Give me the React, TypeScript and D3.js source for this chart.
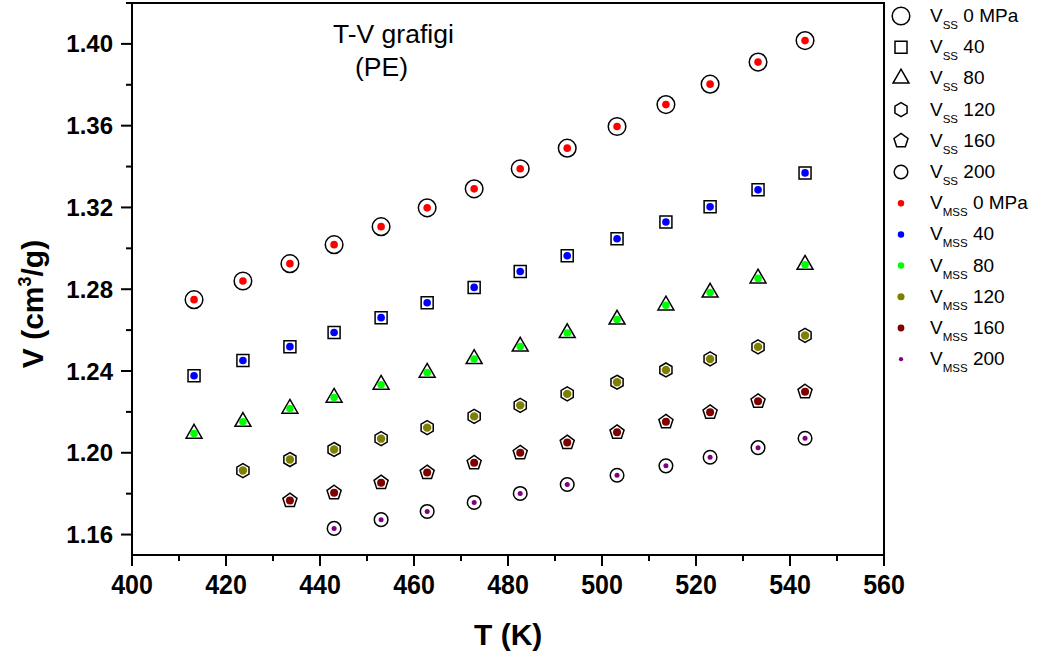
import React from 'react';
import * as d3 from 'd3';

// Temperatures (K)
const temperatures = [413.2, 423.6, 433.6, 443.0, 453.0, 462.8, 472.8, 482.6, 492.6, 503.2, 513.6, 523.0, 533.2, 543.2];

// Specific volume (cm^3/g) per pressure
const v0 = [1.2749, 1.2840, 1.2925, 1.3018, 1.3106, 1.3198, 1.3291, 1.3389, 1.3490, 1.3596, 1.3703, 1.3803, 1.3911, 1.4016];
const v40 = [1.2377, 1.2451, 1.2519, 1.2588, 1.2661, 1.2734, 1.2809, 1.2887, 1.2964, 1.3047, 1.3129, 1.3203, 1.3286, 1.3369];
const v80 = [1.2094, 1.2152, 1.2216, 1.2270, 1.2333, 1.2392, 1.2459, 1.2520, 1.2586, 1.2652, 1.2721, 1.2784, 1.2853, 1.2920];
const v120 = [null, 1.1913, 1.1967, 1.2016, 1.2069, 1.2123, 1.2178, 1.2232, 1.2288, 1.2345, 1.2405, 1.2459, 1.2518, 1.2574];
const v160 = [null, null, 1.1766, 1.1805, 1.1854, 1.1903, 1.1951, 1.2000, 1.2050, 1.2100, 1.2152, 1.2198, 1.2252, 1.2299];
const v200 = [null, null, null, 1.1630, 1.1673, 1.1713, 1.1757, 1.1801, 1.1845, 1.1890, 1.1936, 1.1978, 1.2025, 1.2071];

const seriesValues: (number | null)[][] = [v0, v40, v80, v120, v160, v200];
const pressureLabels = ['0 MPa', '40', '80', '120', '160', '200'];
const ssShapes = ['circle', 'square', 'triangle', 'hexagon', 'pentagon', 'smallCircle'];
const mssColors = ['#ff0000', '#0000ff', '#00ff00', '#808000', '#800000', '#800080'];
const mssRadii = [3.8, 3.8, 3.8, 4.2, 4.0, 2.5];

const xMajorTicks = [400, 420, 440, 460, 480, 500, 520, 540, 560];
const xMinorTicks = [410, 430, 450, 470, 490, 510, 530, 550];
const yMajorTicks = [1.16, 1.20, 1.24, 1.28, 1.32, 1.36, 1.40];
const yMinorTicks = [1.18, 1.22, 1.26, 1.30, 1.34, 1.38, 1.42];

const FONT = "'Liberation Sans', Arial, Helvetica, sans-serif";

function polygonPath(n: number, r: number, rotDeg: number): string {
  const p = d3.path();
  for (let i = 0; i < n; i++) {
    const a = (rotDeg * Math.PI) / 180 + (i * 2 * Math.PI) / n;
    const px = r * Math.cos(a);
    const py = r * Math.sin(a);
    if (i === 0) p.moveTo(px, py);
    else p.lineTo(px, py);
  }
  p.closePath();
  return p.toString();
}

function circlePath(r: number): string {
  const p = d3.path();
  p.moveTo(r, 0);
  p.arc(0, 0, r, 0, Math.PI * 2);
  p.closePath();
  return p.toString();
}

function shapePath(shape: string): string {
  switch (shape) {
    case 'circle':
      return circlePath(8.8);
    case 'square':
      return polygonPath(4, 6 * Math.SQRT2, 45);
    case 'triangle':
      return polygonPath(3, 9.2, -90);
    case 'hexagon':
      return polygonPath(6, 7, -90);
    case 'pentagon':
      return polygonPath(5, 7.4, -90);
    default:
      return circlePath(6.8);
  }
}

export default function App() {
  const width = 1041;
  const height = 660;
  const x = d3.scaleLinear().domain([400, 560]).range([132, 884]);
  const y = d3.scaleLinear().domain([1.15, 1.42]).range([555, 3]);

  const [x0, x1] = x.range();
  const [yb, yt] = y.range();

  const legendX = 901;
  const legendTextX = 930;
  const legendY0 = 16;
  const legendStep = 31.2;

  const legendItems = [
    ...pressureLabels.map((p, i) => ({ kind: 'ss', i, sub: 'SS', label: p })),
    ...pressureLabels.map((p, i) => ({ kind: 'mss', i, sub: 'MSS', label: p })),
  ];

  return (
    <svg
      width={width}
      height={height}
      style={{ position: 'absolute', left: 0, top: 0, background: '#fff' }}
      fontFamily={FONT}
    >
      <rect x={0} y={0} width={width} height={height} fill="#fff" />

      {/* frame */}
      <rect x={x0} y={yt} width={x1 - x0} height={yb - yt} fill="none" stroke="#000" strokeWidth={2} />

      {/* x ticks */}
      {xMajorTicks.map((t) => (
        <g key={'xM' + t}>
          <line x1={x(t)} x2={x(t)} y1={yb} y2={yb + 11} stroke="#000" strokeWidth={2} />
          <text
            transform={`translate(${x(t)},594) scale(1,1.12)`}
            textAnchor="middle"
            fontSize={25}
            fontWeight="bold"
          >
            {t}
          </text>
        </g>
      ))}
      {xMinorTicks.map((t) => (
        <line key={'xm' + t} x1={x(t)} x2={x(t)} y1={yb} y2={yb + 6} stroke="#000" strokeWidth={2} />
      ))}

      {/* y ticks */}
      {yMajorTicks.map((t) => (
        <g key={'yM' + t}>
          <line x1={x0 - 11} x2={x0} y1={y(t)} y2={y(t)} stroke="#000" strokeWidth={2} />
          <text x={113} y={y(t) + 8.5} textAnchor="end" fontSize={24} fontWeight="bold">
            {t.toFixed(2)}
          </text>
        </g>
      ))}
      {yMinorTicks.map((t) => (
        <line key={'ym' + t} x1={x0 - 6} x2={x0} y1={y(t)} y2={y(t)} stroke="#000" strokeWidth={2} />
      ))}

      {/* axis titles */}
      <text x={474} y={645} fontSize={30} fontWeight="bold">
        T (K)
      </text>
      <text
        transform={`translate(43, 304) rotate(-90)`}
        textAnchor="middle"
        fontSize={30}
        fontWeight="bold"
      >
        V (cm
        <tspan fontSize={18} dy={-12}>
          3
        </tspan>
        <tspan dy={12}>/g)</tspan>
      </text>

      {/* chart title */}
      <text x={333} y={43} fontSize={26.5}>
        T-V grafigi
      </text>
      <text x={355} y={76} fontSize={26.5}>
        (PE)
      </text>

      {/* SS open markers */}
      {seriesValues.map((vals, si) => (
        <g key={'ss' + si}>
          {vals.map((v, k) =>
            v == null ? null : (
              <path
                key={k}
                d={shapePath(ssShapes[si])}
                transform={`translate(${x(temperatures[k])},${y(v)})`}
                fill="none"
                stroke="#000"
                strokeWidth={1.5}
              />
            )
          )}
        </g>
      ))}

      {/* MSS dots */}
      {seriesValues.map((vals, si) => (
        <g key={'mss' + si}>
          {vals.map((v, k) =>
            v == null ? null : (
              <circle key={k} cx={x(temperatures[k])} cy={y(v)} r={mssRadii[si]} fill={mssColors[si]} />
            )
          )}
        </g>
      ))}

      {/* legend */}
      {legendItems.map((it, idx) => {
        const cy = legendY0 + idx * legendStep;
        return (
          <g key={'lg' + idx}>
            {it.kind === 'ss' ? (
              <path
                d={shapePath(ssShapes[it.i])}
                transform={`translate(${legendX},${cy})`}
                fill="none"
                stroke="#000"
                strokeWidth={1.5}
              />
            ) : (
              <circle cx={legendX} cy={cy} r={mssRadii[it.i] * 0.85} fill={mssColors[it.i]} />
            )}
            <text x={legendTextX} y={cy + 6} fontSize={19}>
              V
              <tspan fontSize={11.5} dy={7}>
                {it.sub}
              </tspan>
              <tspan dy={-7}>{' ' + it.label}</tspan>
            </text>
          </g>
        );
      })}
    </svg>
  );
}
